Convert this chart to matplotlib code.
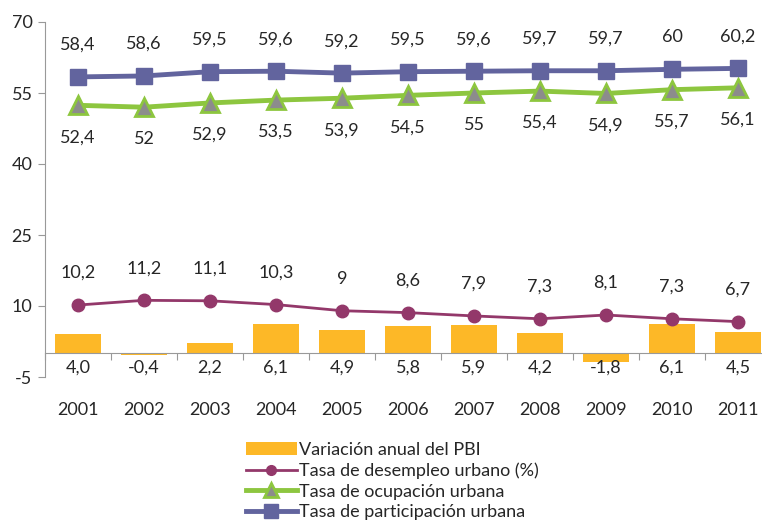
import matplotlib.pyplot as plt
import matplotlib.transforms as mtransforms

years = ["2001", "2002", "2003", "2004", "2005", "2006", "2007", "2008", "2009", "2010", "2011"]
pbi = [4.0, -0.4, 2.2, 6.1, 4.9, 5.8, 5.9, 4.2, -1.8, 6.1, 4.5]
desempleo = [10.2, 11.2, 11.1, 10.3, 9, 8.6, 7.9, 7.3, 8.1, 7.3, 6.7]
ocupacion = [52.4, 52, 52.9, 53.5, 53.9, 54.5, 55, 55.4, 54.9, 55.7, 56.1]
participacion = [58.4, 58.6, 59.5, 59.6, 59.2, 59.5, 59.6, 59.7, 59.7, 60, 60.2]
yticks = [-5, 10, 25, 40, 55, 70]

plt.rcParams['font.family'] = ['Lato', 'DejaVu Sans']
txt = '#262626'
fs = 13

W, H = 762, 521
fig = plt.figure(figsize=(W / 100, H / 100), dpi=100)
# axes box in pixels: x 45..771, y 22..377
ax = fig.add_axes([45 / W, 1 - 377 / H, (771 - 45) / W, (377 - 22) / H])

x = list(range(len(years)))

ax.bar(x, pbi, width=0.7, color='#FDB827', label='Variación anual del PBI', zorder=2)
ax.plot(x, desempleo, color='#93386A', lw=2, marker='o', ms=9,
        label='Tasa de desempleo urbano (%)', zorder=3)
ax.plot(x, ocupacion, color='#8DC63F', lw=3.5, marker='^', ms=13,
        markerfacecolor='#8C8C8C', markeredgecolor='#8DC63F', markeredgewidth=2,
        label='Tasa de ocupación urbana', zorder=3)
ax.plot(x, participacion, color='#62649E', lw=3.5, marker='s', ms=12,
        label='Tasa de participación urbana', zorder=4)

ax.set_xlim(-0.5, len(years) - 0.5)
ax.set_ylim(-5, 70)
ax.set_yticks(yticks)
ax.set_yticklabels([str(v) for v in yticks], fontsize=fs, color=txt)

# x axis crosses at 0, labels drawn low
ax.spines['bottom'].set_position(('data', 0))
ax.spines['top'].set_visible(False)
ax.spines['right'].set_visible(False)
ax.spines['left'].set_color('#999999')
ax.spines['bottom'].set_color('#999999')
ax.tick_params(axis='y', length=5, color='#999999', pad=4)
ax.set_xticks([i - 0.5 for i in x] + [len(years) - 0.5])
ax.set_xticklabels([])
ax.tick_params(axis='x', length=5, direction='out', color='#999999')

trans = mtransforms.blended_transform_factory(ax.transData, ax.transAxes)
for i, yr in enumerate(years):
    ax.text(i, -0.093, yr, transform=trans, ha='center', va='center', fontsize=fs, color=txt)

def fmt(v):
    return f"{v:g}".replace('.', ',')

for i in x:
    ax.text(i, -3.0, f"{pbi[i]:.1f}".replace('.', ','), ha='center', va='center',
            fontsize=fs, color=txt)
    ax.annotate(fmt(desempleo[i]), (i, desempleo[i]), xytext=(0, 23), textcoords='offset points',
                ha='center', va='center', fontsize=fs, color=txt)
    ax.annotate(fmt(ocupacion[i]), (i, ocupacion[i]), xytext=(0, -23), textcoords='offset points',
                ha='center', va='center', fontsize=fs, color=txt)
    ax.annotate(fmt(participacion[i]), (i, participacion[i]), xytext=(0, 23), textcoords='offset points',
                ha='center', va='center', fontsize=fs, color=txt)

handles, labels = ax.get_legend_handles_labels()
order = [3, 0, 1, 2]
leg = fig.legend([handles[k] for k in order], [labels[k] for k in order],
                 loc='upper left', bbox_to_anchor=(246 / W, 1 - 442 / H), frameon=False,
                 fontsize=fs, handlelength=2.8, handletextpad=0.15, labelspacing=0.25,
                 borderpad=0, borderaxespad=0)
for t in leg.get_texts():
    t.set_color(txt)
for h, ms in zip(leg.legend_handles[1:], [7, 10, 10]):
    h.set_markersize(ms)

fig.savefig('out.png', dpi=100)
